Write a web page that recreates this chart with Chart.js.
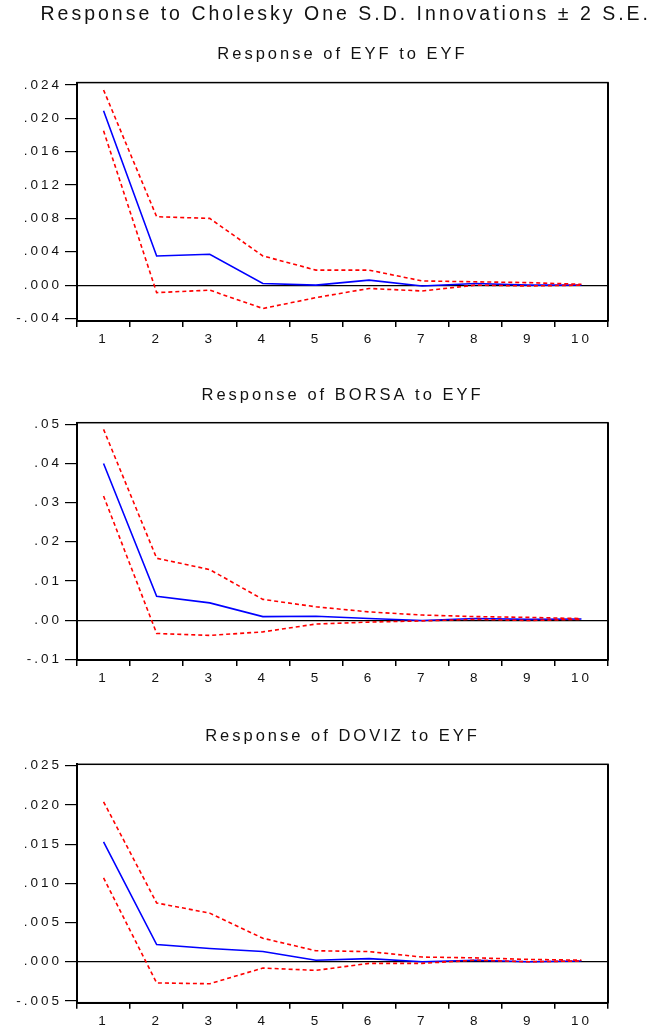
<!DOCTYPE html>
<html>
<head>
<meta charset="utf-8">
<script src="https://cdn.jsdelivr.net/npm/chart.js@4/dist/chart.umd.min.js"></script>
<style>
  html, body { margin: 0; padding: 0; background: #fff; }
  #wrap { position: relative; width: 656px; height: 1033px; background: #fff; }
  canvas { position: absolute; left: 0; }
</style>
</head>
<body>
<div id="wrap">
  <canvas id="c1" width="656" height="350" style="top:0px"></canvas>
  <canvas id="c2" width="656" height="340" style="top:350px"></canvas>
  <canvas id="c3" width="656" height="343" style="top:690px"></canvas>
</div>
<script>
// ---- Data ----
const mainTitle = 'Response to Cholesky One S.D. Innovations \u00B1 2 S.E.';
const periods = ['1', '2', '3', '4', '5', '6', '7', '8', '9', '10'];

const eyfTitle = 'Response of EYF to EYF';
const eyfResp  = [0.0209, 0.0035, 0.0037, 0.0002, 0.0000, 0.0006, -0.0001, 0.0002, 0.0000, 0.0000];
const eyfUpper = [0.0234, 0.0082, 0.0080, 0.0035, 0.0018, 0.0018, 0.0005, 0.0004, 0.0003, 0.0001];
const eyfLower = [0.0185, -0.0009, -0.0006, -0.0028, -0.0015, -0.0004, -0.0007, 0.0000, -0.0001, 0.0000];
const eyfTickValues = [-0.004, 0.000, 0.004, 0.008, 0.012, 0.016, 0.020, 0.024];
const eyfTickLabels = ['-.004', '.000', '.004', '.008', '.012', '.016', '.020', '.024'];

const borsaTitle = 'Response of BORSA to EYF';
const borsaResp  = [0.0400, 0.0061, 0.0044, 0.0009, 0.0010, 0.0004, -0.0001, 0.0004, 0.0002, 0.0003];
const borsaUpper = [0.0487, 0.0158, 0.0129, 0.0053, 0.0034, 0.0021, 0.0013, 0.0009, 0.0007, 0.0004];
const borsaLower = [0.0317, -0.0034, -0.0039, -0.0030, -0.0010, -0.0005, -0.0002, 0.0002, -0.0001, 0.0002];
const borsaTickValues = [-0.01, 0.00, 0.01, 0.02, 0.03, 0.04, 0.05];
const borsaTickLabels = ['-.01', '.00', '.01', '.02', '.03', '.04', '.05'];

const dovizTitle = 'Response of DOVIZ to EYF';
const dovizResp  = [0.0153, 0.0022, 0.0017, 0.0013, 0.0002, 0.0004, 0.0000, 0.0002, 0.0000, 0.0001];
const dovizUpper = [0.0204, 0.0075, 0.0062, 0.0030, 0.0014, 0.0013, 0.0006, 0.0005, 0.0003, 0.0002];
const dovizLower = [0.0107, -0.0027, -0.0028, -0.0008, -0.0011, -0.0002, -0.0002, 0.0002, 0.0000, 0.0001];
const dovizTickValues = [-0.005, 0.000, 0.005, 0.010, 0.015, 0.020, 0.025];
const dovizTickLabels = ['-.005', '.000', '.005', '.010', '.015', '.020', '.025'];

// ---- Styling / drawing ----
Chart.defaults.font.family = "'Liberation Sans', Arial, Helvetica, sans-serif";
Chart.defaults.color = '#111';

const SPACING = '3px';
const spacingPlugin = {
  id: 'spacing',
  beforeLayout(chart) { chart.ctx.letterSpacing = SPACING; },
  beforeDraw(chart) { chart.ctx.letterSpacing = SPACING; }
};
const framePlugin = {
  id: 'frame',
  afterDatasetsDraw(chart) {
    const { ctx, chartArea: a } = chart;
    ctx.save();
    ctx.strokeStyle = '#000';
    ctx.lineWidth = 1.5;
    ctx.strokeRect(a.left, a.top, a.right - a.left, a.bottom - a.top);
    ctx.lineWidth = 2;
    ctx.beginPath();
    ctx.moveTo(a.right, a.top);
    ctx.lineTo(a.right, a.bottom);
    ctx.stroke();
    ctx.restore();
  }
};

function makeChart(id, opts) {
  const canvas = document.getElementById(id);
  const H = canvas.height;
  const subFont = { size: 16.5, weight: 'normal' };
  const titleCfg = opts.mainTitle ? {
    display: true, text: opts.mainTitle, fullSize: true, align: 'end',
    font: { size: 19.5, weight: 'normal' }, color: '#111',
    padding: { top: 3.3, bottom: 18.2 }
  } : {
    display: true, text: opts.subTitle, fullSize: false,
    font: subFont, color: '#111',
    padding: { top: opts.subTop, bottom: opts.subBottom }
  };
  const subCfg = opts.mainTitle ? {
    display: true, text: opts.subTitle, fullSize: false,
    font: subFont, color: '#111',
    padding: { top: 0, bottom: opts.subBottom }
  } : { display: false };

  return new Chart(canvas, {
    type: 'line',
    data: {
      labels: periods,
      datasets: [
        { data: opts.upper, borderColor: '#ff0000', borderWidth: 1.6, borderDash: [4, 3], pointRadius: 0, tension: 0, fill: false },
        { data: opts.lower, borderColor: '#ff0000', borderWidth: 1.6, borderDash: [4, 3], pointRadius: 0, tension: 0, fill: false },
        { data: opts.resp, borderColor: '#0000ff', borderWidth: 1.6, pointRadius: 0, tension: 0, fill: false }
      ]
    },
    options: {
      responsive: false,
      animation: false,
      devicePixelRatio: 1,
      layout: { padding: { left: 8, right: 5, top: 0, bottom: 0 } },
      plugins: {
        legend: { display: false },
        tooltip: { enabled: false },
        title: titleCfg,
        subtitle: subCfg
      },
      scales: {
        x: {
          type: 'category',
          offset: true,
          grid: { offset: true, drawOnChartArea: false, drawTicks: true, tickLength: 6, color: '#000', lineWidth: 1.5 },
          border: { display: true, color: '#000', width: 2 },
          ticks: { font: { size: 13.5 }, color: '#111', padding: 4, maxRotation: 0, autoSkip: false },
          afterFit(scale) { scale.height = H - opts.bottom; }
        },
        y: {
          type: 'linear',
          position: 'left',
          min: opts.min, max: opts.max,
          afterBuildTicks(scale) { scale.ticks = opts.tickValues.map(v => ({ value: v })); },
          grid: {
            drawOnChartArea: true, drawTicks: true, tickLength: 12,
            color: (c) => (c.tick && Math.abs(c.tick.value) < 1e-12) ? '#000' : 'rgba(0,0,0,0)',
            tickColor: '#000', lineWidth: 1.2
          },
          border: { display: true, color: '#000', width: 2 },
          ticks: {
            font: { size: 13.5 }, color: '#111', padding: 3,
            callback: (v) => {
              const i = opts.tickValues.findIndex(t => Math.abs(t - v) < 1e-9);
              return i >= 0 ? opts.tickLabels[i] : '';
            }
          },
          afterFit(scale) { scale.width = 69; }
        },
        yRight: {
          type: 'linear',
          position: 'right',
          display: true,
          min: opts.min, max: opts.max,
          grid: { display: false, drawTicks: false },
          border: { display: false },
          ticks: { display: false },
          afterFit(scale) { scale.width = 43; }
        }
      }
    },
    plugins: [spacingPlugin, framePlugin]
  });
}

makeChart('c1', {
  mainTitle: mainTitle, subTitle: eyfTitle, subBottom: 17.9,
  resp: eyfResp, upper: eyfUpper, lower: eyfLower,
  tickValues: eyfTickValues, tickLabels: eyfTickLabels,
  min: -0.0043, max: 0.02428, bottom: 321
});
makeChart('c2', {
  subTitle: borsaTitle, subTop: 35.9, subBottom: 17.0,
  resp: borsaResp, upper: borsaUpper, lower: borsaLower,
  tickValues: borsaTickValues, tickLabels: borsaTickLabels,
  min: -0.01018, max: 0.0504, bottom: 310
});
makeChart('c3', {
  subTitle: dovizTitle, subTop: 36.9, subBottom: 17.6,
  resp: dovizResp, upper: dovizUpper, lower: dovizLower,
  tickValues: dovizTickValues, tickLabels: dovizTickLabels,
  min: -0.00522, max: 0.02518, bottom: 312.7
});
</script>
</body>
</html>
